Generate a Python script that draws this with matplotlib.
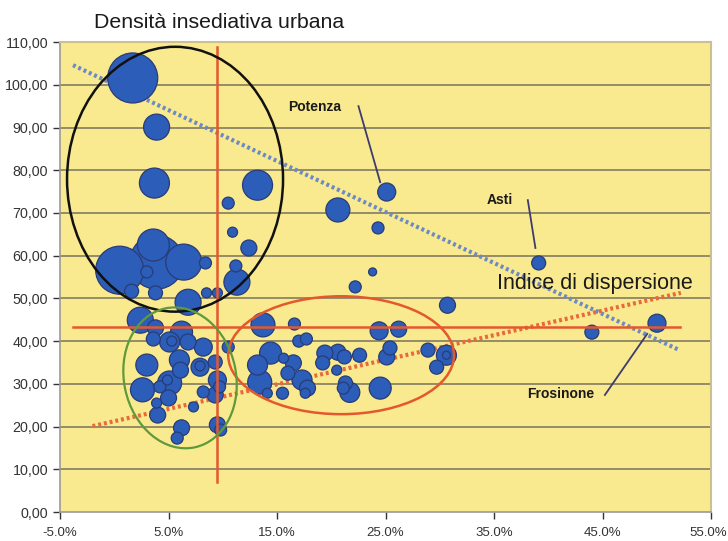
"""
    Bubble chart: densita insediativa urbana vs indice di dispersione.
"""

import numpy as np
import matplotlib
matplotlib.use("Agg")
import matplotlib.pyplot as plt
from matplotlib.patches import Ellipse
from matplotlib.transforms import ScaledTranslation

# Indice di dispersione (%), densita insediativa, dimensione bolla
disp = [1.7, 3.9, 3.7, 13.2, 10.5, 10.9, 12.4, 11.2, 11.3, 20.6,
        3.6, 3.9, 0.5, 6.4, 3.0, 1.6, 3.8, 8.4, 6.8, 8.5,
        9.5, 22.2, 25.1, 24.3, 23.8, 30.7, 39.1, 44.0, 50.0,
        2.4, 3.8, 3.6, 5.1, 5.3, 6.2, 6.8, 8.2, 7.9, 9.3,
        3.0, 6.0, 6.1, 5.1, 4.9, 4.2, 2.6, 5.0, 3.9, 7.3,
        8.2, 9.5, 9.3, 9.7, 4.0, 6.2, 5.8, 9.5, 9.8, 10.5,
        13.7, 16.6, 17.0, 17.7, 14.4, 13.2, 13.4, 14.1, 15.5, 15.6,
        16.5, 16.0, 17.3, 17.8, 17.6, 19.4, 19.2, 20.6, 21.2, 20.5,
        21.3, 21.1, 21.7, 24.4, 26.2, 22.6, 25.4, 25.1, 28.9, 29.7,
        30.6, 30.6, 24.5, 7.9]
dens = [101.6, 90.1, 77.0, 76.5, 72.3, 65.5, 61.8, 57.6, 53.8, 70.7,
        62.5, 58.5, 56.6, 58.5, 56.2, 51.7, 51.3, 58.3, 49.1, 51.3,
        51.3, 52.7, 74.9, 66.5, 56.2, 48.4, 58.3, 42.1, 44.2,
        44.9, 43.1, 40.5, 39.8, 40.0, 42.1, 39.8, 38.6, 33.9, 35.1,
        34.4, 35.6, 33.2, 30.2, 30.9, 29.3, 28.6, 26.7, 25.5, 24.6,
        28.1, 30.9, 27.4, 29.3, 22.7, 19.7, 17.3, 20.4, 19.2, 38.6,
        43.8, 44.0, 40.0, 40.5, 37.2, 34.4, 30.4, 27.8, 27.8, 36.0,
        34.9, 32.5, 30.9, 29.0, 27.8, 37.2, 34.9, 37.4, 36.3, 33.2,
        30.2, 29.0, 28.0, 42.4, 42.8, 36.7, 38.4, 36.3, 37.9, 33.9,
        36.7, 36.7, 29.0, 34.2]
peso = [25, 13, 15, 15, 6, 5, 8, 6, 13, 12,
        16, 27, 24, 18, 6, 7, 7, 6, 13, 5,
        5, 6, 9, 6, 4, 8, 7, 7, 9,
        13, 8, 7, 10, 5, 11, 8, 9, 9, 7,
        11, 10, 8, 12, 5, 6, 12, 8, 5, 5,
        6, 9, 8, 6, 8, 8, 6, 8, 6, 6,
        12, 6, 6, 6, 11, 10, 12, 5, 6, 5,
        8, 7, 10, 8, 5, 8, 7, 8, 7, 5,
        7, 6, 10, 9, 8, 7, 7, 8, 7, 7,
        10, 4, 11, 5]

# Medie e rette di tendenza
media_disp = 9.5
media_dens = 43.3
trend_dens_x = [-3.8, 51.9]
trend_dens_y = [104.6, 38.1]
trend_disp_x = [-2.0, 52.2]
trend_disp_y = [20.1, 51.3]

x_ticks = [-5, 5, 15, 25, 35, 45, 55]
y_ticks = list(range(0, 111, 10))

plt.rcParams['font.family'] = ['Liberation Sans', 'DejaVu Sans']

fig = plt.figure(figsize=(7.28, 5.41), dpi=100)
ax = fig.add_axes([0.0824, 0.0536, 0.8946, 0.8686])
ax.set_facecolor('#F9E98F')
ax.set_xlim(-5, 55)
ax.set_ylim(0, 110)

# grid
for yv in y_ticks[1:]:
    ax.axhline(yv, color='#8C8466', lw=1.3, zorder=1)

# trend lines
ax.plot(trend_dens_x, trend_dens_y, color='#6C8AC4', lw=3, ls=(0, (0.7, 0.7)), zorder=2)
ax.plot(trend_disp_x, trend_disp_y, color='#E8693A', lw=3, ls=(0, (0.7, 0.7)), zorder=2)

# bubbles (large first so small ones stay visible)
order = np.argsort(peso)[::-1]
xs = np.array(disp)[order]
ys = np.array(dens)[order]
ss = (1.44 * np.array(peso, dtype=float)[order]) ** 2
ax.scatter(xs, ys, s=ss, c='#2C5DB8', edgecolors='#283C78', linewidths=0.9, zorder=3)

# mean lines
ax.plot([media_disp, media_disp], [7.0, 108.8], color='#E4582E', lw=1.8, zorder=4)
ax.plot([-3.8, 52.1], [media_dens, media_dens], color='#E4582E', lw=1.8, zorder=4)

# ellipses
ax.add_patch(Ellipse((5.6, 77.9), 19.9, 62.0, fill=False, ec='#111111', lw=1.8, zorder=5))
ax.add_patch(Ellipse((20.9, 36.7), 20.8, 27.6, fill=False, ec='#E4582E', lw=1.8, zorder=5))
green_tr = fig.dpi_scale_trans + ScaledTranslation(6.06, 31.4, ax.transData)
ax.add_patch(Ellipse((0, 0), 1.12, 1.42, angle=12, fill=False, ec='#5E9A3C',
                     lw=1.6, transform=green_tr, zorder=5))

# city labels
lab_kw = dict(fontsize=10, fontweight='bold', color='#1A1A1A', va='center', ha='left', zorder=6)
ax.text(16.0, 94.8, 'Potenza', **lab_kw)
ax.text(34.3, 73.0, 'Asti', **lab_kw)
ax.text(38.0, 27.6, 'Frosinone', **lab_kw)
ax.plot([22.5, 24.5], [95.0, 77.2], color='#3C3C6E', lw=1.3, zorder=6)
ax.plot([38.1, 38.8], [73.0, 61.8], color='#3C3C6E', lw=1.3, zorder=6)
ax.plot([45.2, 49.1], [27.4, 41.7], color='#3C3C6E', lw=1.3, zorder=6)

ax.text(35.3, 53.6, 'Indice di dispersione', fontsize=15.5, color='#1A1A1A',
        va='center', ha='left', zorder=6)
fig.text(0.129, 0.959, 'Densità insediativa urbana', fontsize=15.3, color='#1A1A1A',
         va='center', ha='left')

# axes
ax.set_xticks(x_ticks)
ax.set_xticklabels(['%.1f%%' % v for v in x_ticks])
ax.set_yticks(y_ticks)
ax.set_yticklabels([('%.2f' % v).replace('.', ',') for v in y_ticks])
ax.tick_params(axis='both', colors='#333333', length=5, width=1, direction='out')
ax.tick_params(axis='y', labelsize=10.3)
ax.tick_params(axis='x', labelsize=9.5, pad=6)
# keep the last x label inside the figure
last = ax.get_xticklabels()[-1]
last.set_transform(last.get_transform() + ScaledTranslation(-0.03, 0, fig.dpi_scale_trans))
for sp in ['left', 'bottom']:
    ax.spines[sp].set_color('#9A9A9A')
    ax.spines[sp].set_linewidth(1.2)
for sp in ['top', 'right']:
    ax.spines[sp].set_color('#CDBF90')
    ax.spines[sp].set_linewidth(1.5)

fig.savefig('out.png', dpi=100)
